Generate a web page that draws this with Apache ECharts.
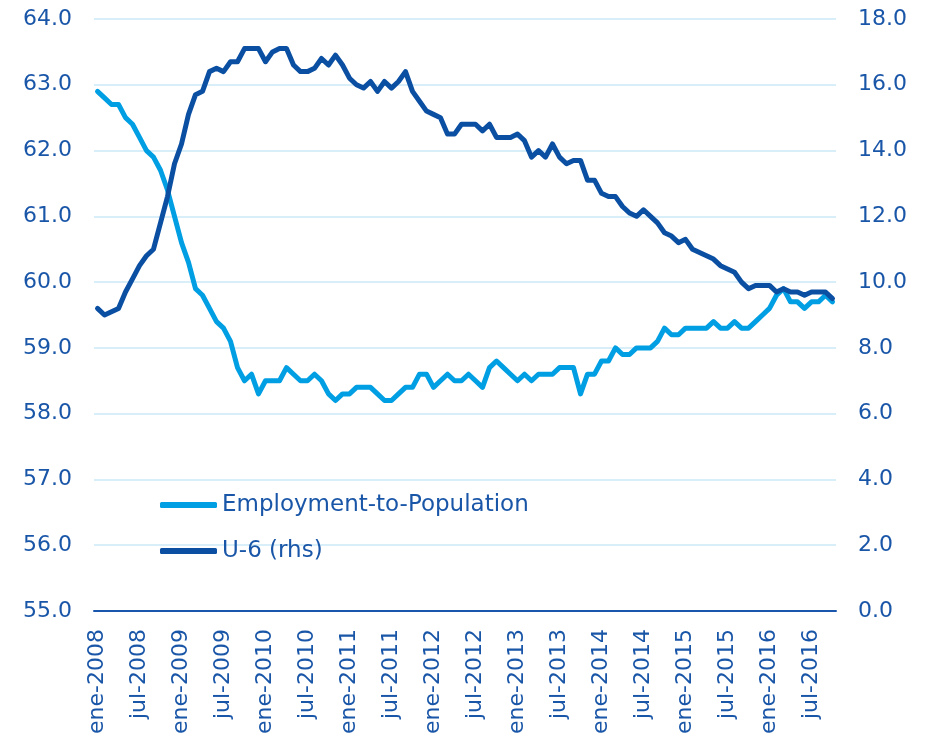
<!DOCTYPE html>
<html>
<head>
<meta charset="utf-8">
<script src="https://cdn.jsdelivr.net/npm/echarts@6/dist/echarts.min.js"></script>
<style>
	html, body { margin: 0; padding: 0; background: #fff; }
	#chart { width: 930px; height: 740px; }
</style>
</head>
<body>
<div id="chart"></div>
<script>
// month labels (Spanish), Jan 2008 - Oct 2016
const monthNames = ['ene', 'feb', 'mar', 'abr', 'may', 'jun', 'jul', 'ago', 'sep', 'oct', 'nov', 'dic'];
const firstYear = 2008;
const monthCount = 106;

// Employment-to-Population ratio (lhs)
const epop = [
	62.9, 62.8, 62.7, 62.7, 62.5, 62.4, 62.2, 62.0, 61.9, 61.7, 61.4, 61.0,
	60.6, 60.3, 59.9, 59.8, 59.6, 59.4, 59.3, 59.1, 58.7, 58.5, 58.6, 58.3,
	58.5, 58.5, 58.5, 58.7, 58.6, 58.5, 58.5, 58.6, 58.5, 58.3, 58.2, 58.3,
	58.3, 58.4, 58.4, 58.4, 58.3, 58.2, 58.2, 58.3, 58.4, 58.4, 58.6, 58.6,
	58.4, 58.5, 58.6, 58.5, 58.5, 58.6, 58.5, 58.4, 58.7, 58.8, 58.7, 58.6,
	58.5, 58.6, 58.5, 58.6, 58.6, 58.6, 58.7, 58.7, 58.7, 58.3, 58.6, 58.6,
	58.8, 58.8, 59.0, 58.9, 58.9, 59.0, 59.0, 59.0, 59.1, 59.3, 59.2, 59.2,
	59.3, 59.3, 59.3, 59.3, 59.4, 59.3, 59.3, 59.4, 59.3, 59.3, 59.4, 59.5,
	59.6, 59.8, 59.9, 59.7, 59.7, 59.6, 59.7, 59.7, 59.8, 59.7
];

// U-6 rate (rhs)
const u6 = [
	9.2, 9.0, 9.1, 9.2, 9.7, 10.1, 10.5, 10.8, 11.0, 11.8, 12.6, 13.6,
	14.2, 15.1, 15.7, 15.8, 16.4, 16.5, 16.4, 16.7, 16.7, 17.1, 17.1, 17.1,
	16.7, 17.0, 17.1, 17.1, 16.6, 16.4, 16.4, 16.5, 16.8, 16.6, 16.9, 16.6,
	16.2, 16.0, 15.9, 16.1, 15.8, 16.1, 15.9, 16.1, 16.4, 15.8, 15.5, 15.2,
	15.1, 15.0, 14.5, 14.5, 14.8, 14.8, 14.8, 14.6, 14.8, 14.4, 14.4, 14.4,
	14.5, 14.3, 13.8, 14.0, 13.8, 14.2, 13.8, 13.6, 13.7, 13.7, 13.1, 13.1,
	12.7, 12.6, 12.6, 12.3, 12.1, 12.0, 12.2, 12.0, 11.8, 11.5, 11.4, 11.2,
	11.3, 11.0, 10.9, 10.8, 10.7, 10.5, 10.4, 10.3, 10.0, 9.8, 9.9, 9.9,
	9.9, 9.7, 9.8, 9.7, 9.7, 9.6, 9.7, 9.7, 9.7, 9.5
];

const months = [];
for (let i = 0; i < monthCount; i++) {
	months.push(monthNames[i % 12] + '-' + (firstYear + Math.floor(i / 12)));
}

const textBlue = '#1a56a8';
const font = 'DejaVu Sans';

let myChart = echarts.init(document.getElementById('chart'));
myChart.setOption({
	animation: false,
	backgroundColor: '#ffffff',
	grid: {
		left: 94,
		right: 94,
		top: 19,
		bottom: 129
	},
	legend: {
		orient: 'vertical',
		left: 155,
		top: 488,
		itemWidth: 57,
		itemHeight: 6,
		itemGap: 22,
		icon: 'roundRect',
		textStyle: {
			fontFamily: font,
			fontSize: 23,
			color: textBlue,
			lineHeight: 24
		},
		data: ['Employment-to-Population', 'U-6 (rhs)']
	},
	xAxis: {
		type: 'category',
		data: months,
		boundaryGap: true,
		axisLine: { lineStyle: { color: '#1a56ab', width: 2 } },
		axisTick: {
			interval: 5,
			length: 8,
			lineStyle: { color: '#1a56ab', width: 2 }
		},
		axisLabel: {
			interval: 5,
			rotate: 90,
			margin: 18,
			fontFamily: font,
			fontSize: 22,
			color: textBlue
		},
		splitLine: { show: false }
	},
	yAxis: [
		{
			type: 'value',
			min: 55,
			max: 64,
			interval: 1,
			axisLine: { show: false },
			axisTick: { show: false },
			axisLabel: {
				margin: 22,
				fontFamily: font,
				fontSize: 22,
				color: textBlue,
				formatter: v => v.toFixed(1)
			},
			splitLine: { lineStyle: { color: '#cbe8f6', width: 1.5 } }
		},
		{
			type: 'value',
			min: 0,
			max: 18,
			interval: 2,
			position: 'right',
			axisLine: { show: false },
			axisTick: { show: false },
			axisLabel: {
				margin: 22,
				fontFamily: font,
				fontSize: 22,
				color: textBlue,
				formatter: v => v.toFixed(1)
			},
			splitLine: { show: false }
		}
	],
	series: [
		{
			name: 'Employment-to-Population',
			type: 'line',
			yAxisIndex: 0,
			data: epop,
			symbol: 'none',
			color: '#009fe3',
			lineStyle: { width: 5, cap: 'round', join: 'round' }
		},
		{
			name: 'U-6 (rhs)',
			type: 'line',
			yAxisIndex: 1,
			data: u6,
			symbol: 'none',
			color: '#0b4fa3',
			lineStyle: { width: 5, cap: 'round', join: 'round' }
		}
	]
});
</script>
</body>
</html>
